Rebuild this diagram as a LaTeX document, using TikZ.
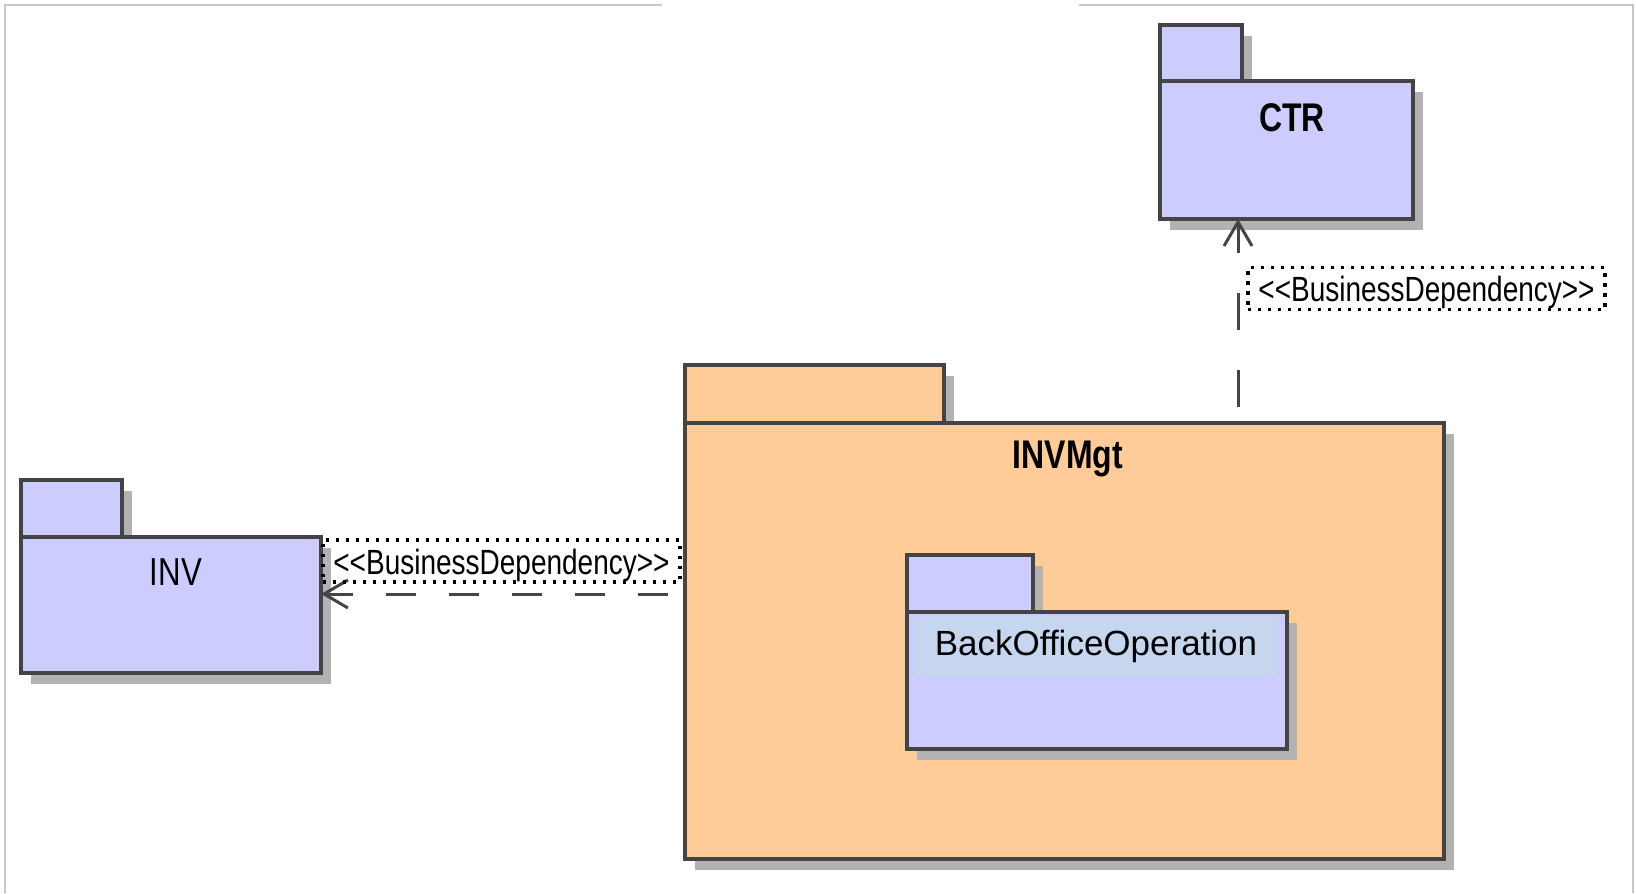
\documentclass[tikz,border=0pt]{standalone}
\usepackage{fontspec}
\setmainfont{Liberation Sans}
\newfontfamily\narrowfont[FakeStretch=0.8]{Liberation Sans}
\usetikzlibrary{arrows.meta,shadows}
\definecolor{PkgBlue}{HTML}{CCCCFF}
\definecolor{PkgOrange}{HTML}{FFCC99}
\definecolor{PkgBand}{HTML}{C6D6EF}
\definecolor{PkgLine}{HTML}{444444}
\definecolor{PkgShadow}{HTML}{B2B2B2}
\definecolor{FrameGrey}{HTML}{C8C8C8}
\tikzset{
  pkg/.style={draw=PkgLine, line width=1.6pt, inner sep=0pt, outer sep=0pt,
    anchor=north west,
    drop shadow={shadow xshift=5pt, shadow yshift=-5.5pt, fill=PkgShadow, opacity=1}},
  pkgname/.style={font=\narrowfont\bfseries\fontsize{20}{24}\selectfont},
  dep/.style={PkgLine, line width=1.5pt, -{Straight Barb[length=12pt,width=14pt]}},
  deplabel/.style={draw, dash pattern=on 1.6pt off 3.4pt, line width=1.6pt,
    inner sep=0pt, minimum width=178.5pt, minimum height=21pt,
    text height=16pt, text depth=2.7pt,
    font=\narrowfont\fontsize{17.5}{20}\selectfont}
}
\begin{document}
\begin{tikzpicture}[x=0.5pt, y=-0.5pt]
  \useasboundingbox (0,0) rectangle (1636,893);
  % frame
  \draw[FrameGrey, line width=0.6pt] (5,893) -- (5,5) -- (662,5);
  \draw[FrameGrey, line width=0.6pt] (1079,5) -- (1633,5) -- (1633,893);
  % CTR
  \node[pkg, fill=PkgBlue, minimum width=41pt, minimum height=28pt] (ctr-tab) at (1160,25) {};
  \node[pkg, fill=PkgBlue, minimum width=126.5pt, minimum height=69pt] (ctr) at (1160,81) {};
  \node[pkgname] (ctr-name) at (1292,118) {CTR};
  % INV
  \node[pkg, fill=PkgBlue, minimum width=50.5pt, minimum height=28.5pt] (inv-tab) at (21,480) {};
  \node[pkg, fill=PkgBlue, minimum width=150pt, minimum height=68pt] (inv) at (21,537) {};
  \node[font=\narrowfont\fontsize{19.5}{23}\selectfont] (inv-name) at (176,572) {INV};
  % INVMgt
  \node[pkg, fill=PkgOrange, minimum width=129.5pt, minimum height=29pt] (invmgt-tab) at (685,365) {};
  \node[pkg, fill=PkgOrange, minimum width=379.5pt, minimum height=218pt] (invmgt) at (685,423) {};
  \node[pkgname] (invmgt-name) at (1068,459) {INVMgt};
  % BackOfficeOperation
  \node[pkg, fill=PkgBlue, minimum width=63pt, minimum height=28.5pt] (boo-tab) at (907,555) {};
  \node[pkg, fill=PkgBlue, minimum width=190pt, minimum height=68.5pt] (boo) at (907,612) {};
  \node[fill=PkgBand, minimum width=181pt, minimum height=30pt, inner sep=0pt,
    font=\fontsize{17.5}{21}\selectfont] (boo-name) at (1096,646) {BackOfficeOperation};
  % dependencies
  \coordinate (invmgt-out1) at (668,594);
  \coordinate (invmgt-out2) at (1238,407);
  \draw[dep, dash pattern=on 15pt off 16.5pt] (invmgt-out1) -- (inv.east |- invmgt-out1);
  \draw[dep, dash pattern=on 18.5pt off 20pt] (invmgt-out2) -- (ctr.south -| invmgt-out2);
  \node[deplabel] (dep-inv) at (501.5,561) {<<BusinessDependency>>};
  \node[deplabel] (dep-ctr) at (1426.5,288.5) {<<BusinessDependency>>};
\end{tikzpicture}
\end{document}
